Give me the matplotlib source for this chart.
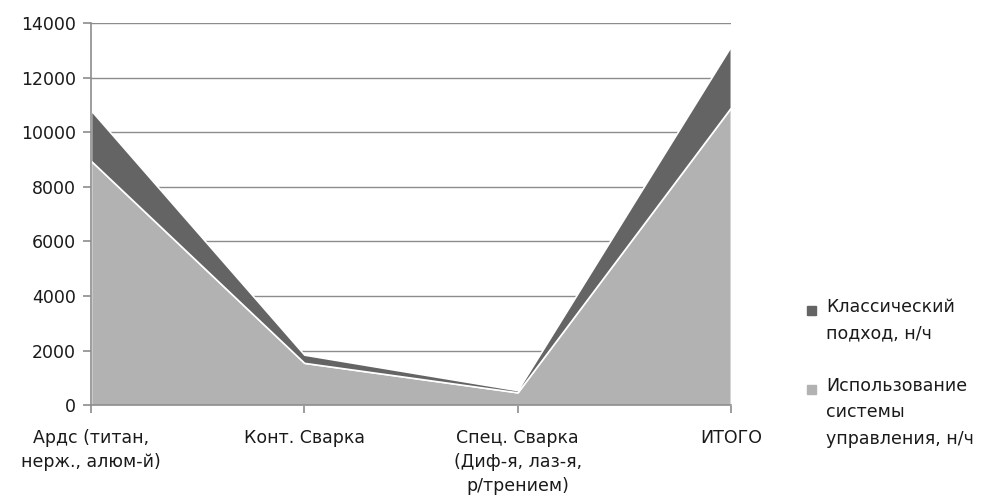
import numpy as np
import matplotlib.pyplot as plt
from matplotlib.patches import Rectangle

categories = ["Ардс (титан,\nнерж., алюм-й)", "Конт. Сварка",
              "Спец. Сварка\n(Диф-я, лаз-я,\nр/трением)", "ИТОГО"]
system_hours = [8950, 1550, 470, 10900]     # Использование системы управления
classic_extra = [1850, 300, 80, 2250]       # Классический подход (сверху)

labels = ["Использование\nсистемы\nуправления, н/ч", "Классический\nподход, н/ч"]
colors = ["#b2b2b2", "#646464"]
grid_c = "#8c8c8c"
txt_c = "#1a1a1a"

plt.rcParams['font.family'] = ['DejaVu Sans']
fig = plt.figure(figsize=(9.89, 4.99), dpi=100)
ax = fig.add_axes([0.092, 0.188, 0.647, 0.766])

x = np.arange(len(categories))
polys = ax.stackplot(x, system_hours, classic_extra, colors=colors,
                     edgecolor="white", linewidth=1.2, zorder=3)

ax.set_xlim(0, 3)
ax.set_ylim(0, 14000)
ax.set_yticks(range(0, 14001, 2000))
ax.set_xticks(x)
ax.set_xticklabels(categories, linespacing=1.45)
ax.grid(axis="y", color=grid_c, lw=1, zorder=0)

for s in ["top", "right"]:
    ax.spines[s].set_visible(False)
for s in ["left", "bottom"]:
    ax.spines[s].set_color(grid_c)
    ax.spines[s].set_linewidth(1.2)
    ax.spines[s].set_zorder(4)

ax.tick_params(axis="both", colors=grid_c, labelcolor=txt_c,
               labelsize=12.5, length=6, width=1.2)
ax.tick_params(axis="x", pad=11)
ax.tick_params(axis="y", pad=5)

# legend: square aligned with the first line of each label
W, H = 989, 499
entries = [(labels[1], colors[1], 307), (labels[0], colors[0], 386)]
for text, col, ytop in entries:
    fig.patches.append(Rectangle((807 / W, 1 - (ytop + 8) / H), 9 / W, 9 / H,
                                 transform=fig.transFigure, color=col))
    fig.text(826 / W, 1 - (ytop - 9) / H, text, fontsize=12.5, color=txt_c,
             va="top", ha="left", linespacing=1.6)

plt.savefig("out.png", dpi=100)
